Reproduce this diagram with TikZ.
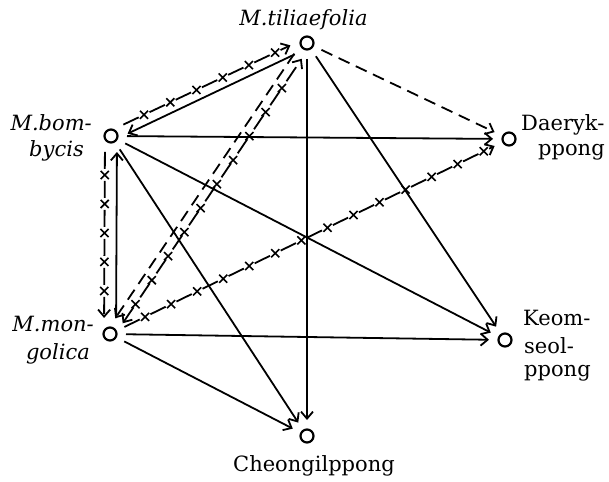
\documentclass[tikz,border=0pt]{standalone}
\usepackage{fontspec}
\setmainfont{DejaVu Serif}
\usetikzlibrary{arrows.meta,calc,decorations.markings,shapes.misc}
\newcommand\mylink[5]{%
  \coordinate (#5s) at ($(#2)!16pt!(#3)$);
  \coordinate (#5e) at ($(#3)!16pt!(#2)$);
  \coordinate (#5a) at ($(#5s)!#4!90:(#5e)$);
  \coordinate (#5b) at ($(#5e)!#4!-90:(#5s)$);
  \draw[#1] (#5a) -- (#5b);}
\tikzset{
  pt/.style={circle,draw,line width=2.2pt,minimum size=13pt,inner sep=0pt},
  lbl/.style={font=\fontsize{21}{24}\selectfont,inner sep=0pt},
  ilbl/.style={lbl,font=\fontsize{21}{24}\selectfont\itshape},
  ln/.style={line width=1.8pt,>={Straight Barb[length=7pt,width=12pt]}},
  solidln/.style={ln},
  dashln/.style={ln,dash pattern=on 12pt off 7pt},
  xm/.style={cross out,draw,line width=1.6pt,minimum size=6.5pt,inner sep=0pt,solid},
  xline/.style={ln,dash pattern=on 17pt off 12pt,postaction={decorate},
    decoration={markings,mark=between positions 23pt and -8pt step 29pt with {\node[xm]{};}}}
}
\begin{document}
\begin{tikzpicture}[x=1pt,y=-1pt]
\useasboundingbox (0,0) rectangle (609,481);
% points
\node[pt] (til) at (307,43) {};
\node[pt] (bom) at (111,136) {};
\node[pt] (mon) at (110,334) {};
\node[pt] (che) at (307,436) {};
\node[pt] (dae) at (509,139) {};
\node[pt] (keo) at (505,340) {};
% labels
\node[ilbl,anchor=base] (ltil) at (303.5,26) {M.tiliaefolia};
\node[ilbl,anchor=base east] (lbom1) at (92,131) {M.bom-};
\node[ilbl,anchor=base east] (lbom2) at (84,157) {bycis};
\node[ilbl,anchor=base east] (lmon1) at (94,331) {M.mon-};
\node[ilbl,anchor=base east] (lmon2) at (90,359) {golica};
\node[lbl,anchor=base west] (ldae1) at (521,131) {Daeryk-};
\node[lbl,anchor=base west] (ldae2) at (538,155) {ppong};
\node[lbl,anchor=base west] (lkeo1) at (523,325) {Keom-};
\node[lbl,anchor=base west] (lkeo2) at (524,353) {seol-};
\node[lbl,anchor=base west] (lkeo3) at (524,376) {ppong};
\node[lbl,anchor=base] (lche) at (314,471) {Cheongilppong};
% pairs
\mylink{xline,->}{bom}{til}{5pt}{e1}
\mylink{solidln,->}{til}{bom}{5pt}{e2}
\mylink{xline,->}{bom}{mon}{-6pt}{e3}
\mylink{solidln,->}{mon}{bom}{-6pt}{e4}
\mylink{dashln,->}{til}{mon}{-4.5pt}{e5}
\mylink{xline,<->}{mon}{til}{-4.5pt}{e6}
% singles
\mylink{dashln,->}{til}{dae}{0pt}{e7}
\mylink{solidln,->}{bom}{dae}{0pt}{e8}
\mylink{xline,->}{mon}{dae}{0pt}{e9}
\mylink{solidln,->}{til}{keo}{0pt}{e10}
\mylink{solidln,->}{bom}{keo}{0pt}{e11}
\mylink{solidln,->}{mon}{keo}{0pt}{e12}
\mylink{solidln,->}{til}{che}{0pt}{e13}
\mylink{solidln,->}{bom}{che}{0pt}{e14}
\mylink{solidln,->}{mon}{che}{0pt}{e15}
\end{tikzpicture}
\end{document}
